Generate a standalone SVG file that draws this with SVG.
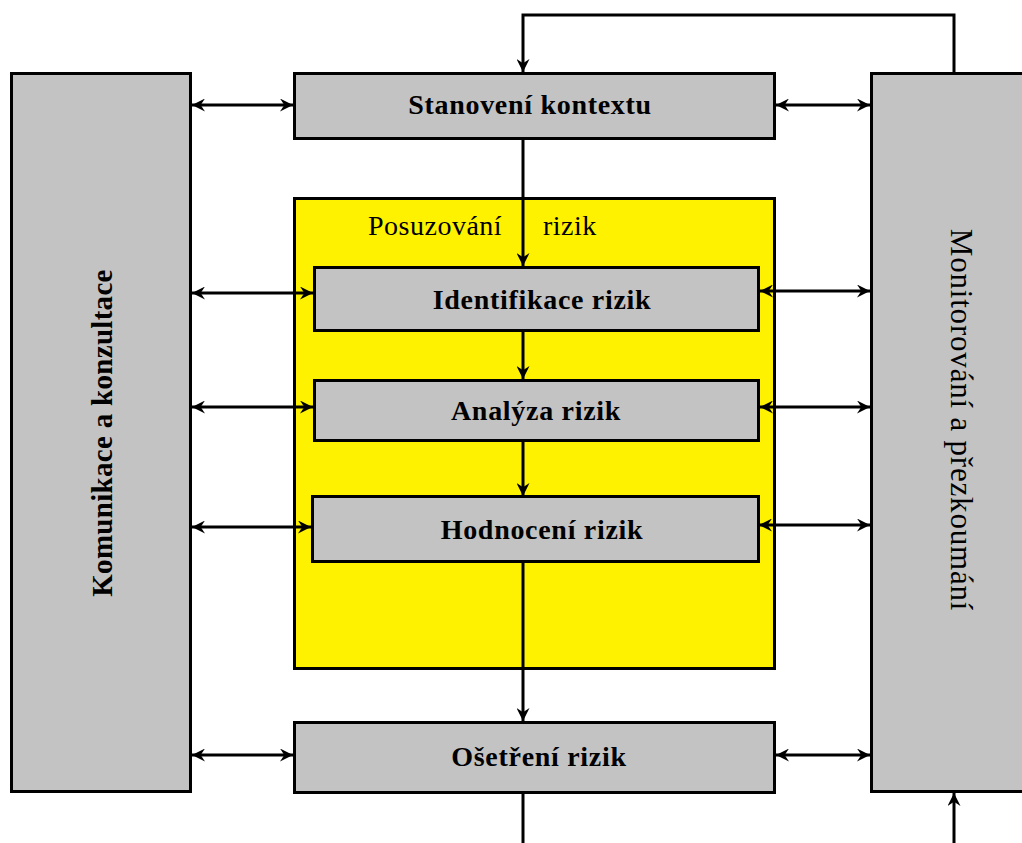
<svg xmlns="http://www.w3.org/2000/svg" width="1022" height="843" viewBox="0 0 1022 843">
  <defs>
    <marker id="arrow" viewBox="0 0 12 12" refX="12" refY="6" markerWidth="13" markerHeight="13" markerUnits="userSpaceOnUse" orient="auto-start-reverse">
      <path d="M0,0 L12,6 L0,12 L4,6 z" fill="#000"/>
    </marker>
    <style>
      .box { fill: #c3c3c3; stroke: #000; stroke-width: 3; }
      .group { fill: #fff200; stroke: #000; stroke-width: 3; }
      .line { fill: none; stroke: #000; stroke-width: 3; }
      .lbl { font-family: "Liberation Serif", "Times New Roman", serif; font-size: 28px; font-weight: bold; letter-spacing: 0.7px; fill: #000; text-anchor: middle; }
      .side { font-family: "Liberation Serif", "Times New Roman", serif; fill: #000; text-anchor: middle; }
      .cap { font-family: "Liberation Serif", "Times New Roman", serif; font-size: 28px; letter-spacing: 0.5px; fill: #000; }
    </style>
  </defs>

  <!-- side panels -->
  <g id="komunikace">
    <rect class="box" x="11.5" y="73.5" width="179" height="718"/>
    <text class="side" font-size="29" font-weight="bold" letter-spacing="0.3" transform="translate(112,433) rotate(-90)">Komunikace a konzultace</text>
  </g>
  <g id="monitorovani">
    <rect class="box" x="871.5" y="73.5" width="160" height="718"/>
    <text class="side" font-size="31" letter-spacing="0.8" transform="translate(951,420) rotate(90)">Monitorování a přezkoumání</text>
  </g>

  <!-- risk assessment container -->
  <g id="posuzovani">
    <rect class="group" x="294.5" y="198.5" width="480" height="470"/>
    <text class="cap" x="368" y="235">Posuzování</text>
    <text class="cap" x="543" y="235">rizik</text>
  </g>

  <!-- connectors -->
  <g id="connectors">
    <!-- main flow -->
    <path class="line" d="M954,73 V15 H523 V72" marker-end="url(#arrow)"/>
    <line class="line" x1="523" y1="139" x2="523" y2="266" marker-end="url(#arrow)"/>
    <line class="line" x1="523" y1="331" x2="523" y2="379" marker-end="url(#arrow)"/>
    <line class="line" x1="523" y1="441" x2="523" y2="496" marker-end="url(#arrow)"/>
    <line class="line" x1="523" y1="562" x2="523" y2="721" marker-end="url(#arrow)"/>
    <line class="line" x1="523" y1="794" x2="523" y2="843"/>
    <line class="line" x1="954" y1="843" x2="954" y2="793" marker-end="url(#arrow)"/>

    <!-- communication links -->
    <line class="line" x1="192" y1="105" x2="293" y2="105" marker-start="url(#arrow)" marker-end="url(#arrow)"/>
    <line class="line" x1="192" y1="293" x2="313" y2="293" marker-start="url(#arrow)" marker-end="url(#arrow)"/>
    <line class="line" x1="192" y1="407" x2="313" y2="407" marker-start="url(#arrow)" marker-end="url(#arrow)"/>
    <line class="line" x1="192" y1="527" x2="311" y2="527" marker-start="url(#arrow)" marker-end="url(#arrow)"/>
    <line class="line" x1="192" y1="755" x2="293" y2="755" marker-start="url(#arrow)" marker-end="url(#arrow)"/>

    <!-- monitoring links -->
    <line class="line" x1="776" y1="105" x2="870" y2="105" marker-start="url(#arrow)" marker-end="url(#arrow)"/>
    <line class="line" x1="760" y1="291" x2="870" y2="291" marker-start="url(#arrow)" marker-end="url(#arrow)"/>
    <line class="line" x1="760" y1="407" x2="870" y2="407" marker-start="url(#arrow)" marker-end="url(#arrow)"/>
    <line class="line" x1="759" y1="525" x2="870" y2="525" marker-start="url(#arrow)" marker-end="url(#arrow)"/>
    <line class="line" x1="776" y1="755" x2="870" y2="755" marker-start="url(#arrow)" marker-end="url(#arrow)"/>
  </g>

  <!-- process steps -->
  <g id="stanoveni">
    <rect class="box" x="294.5" y="73.5" width="480" height="65"/>
    <text class="lbl" x="530" y="114">Stanovení kontextu</text>
  </g>
  <g id="identifikace">
    <rect class="box" x="314.5" y="267.5" width="444" height="63"/>
    <text class="lbl" x="542" y="309">Identifikace rizik</text>
  </g>
  <g id="analyza">
    <rect class="box" x="314.5" y="380.5" width="444" height="60"/>
    <text class="lbl" x="536" y="420">Analýza rizik</text>
  </g>
  <g id="hodnoceni">
    <rect class="box" x="312.5" y="496.5" width="446" height="65"/>
    <text class="lbl" x="542" y="539">Hodnocení rizik</text>
  </g>
  <g id="osetreni">
    <rect class="box" x="294.5" y="722.5" width="480" height="70"/>
    <text class="lbl" x="539" y="766">Ošetření rizik</text>
  </g>
</svg>
